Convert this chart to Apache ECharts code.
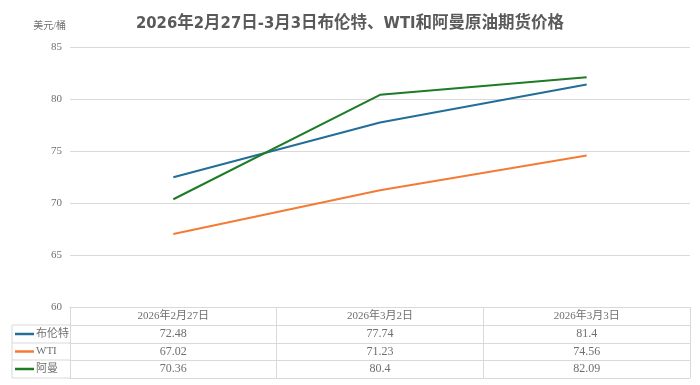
<!DOCTYPE html>
<html><head><meta charset="utf-8">
<script src="https://cdn.jsdelivr.net/npm/echarts@6/dist/echarts.min.js"></script>
<style>html,body{margin:0;padding:0;background:#fff}#c{width:700px;height:385px}</style>
</head><body><div id="c"></div>
<script>
var categories = ['2026年2月27日', '2026年3月2日', '2026年3月3日'];
var seriesNames = ['布伦特', 'WTI', '阿曼'];
var brent = [72.48, 77.74, 81.4];
var wti = [67.02, 71.23, 74.56];
var oman = [70.36, 80.4, 82.09];
var yTicks = [60, 65, 70, 75, 80, 85];
var colors = ['#236E98', '#F47B35', '#1E7B26'];
var rows = [brent, wti, oman];

var serifFont = '"Liberation Serif", "Noto Sans CJK SC", serif';
var textColor = '#6f6f6f';
var border = '#d9d9d9';
var rowH = [18, 36, 53, 71];

function rowAxis(offset, data) {
  return {
    type: 'category', gridIndex: 0, position: 'bottom', offset: offset,
    data: categories, boundaryGap: true,
    axisLine: { show: true, lineStyle: { color: border, width: 1 } },
    axisTick: { show: false },
    splitLine: { show: false },
    axisLabel: {
      show: !!data, interval: 0, margin: 3, fontSize: 12, color: textColor, fontFamily: serifFont,
      formatter: function (v, i) { return data ? String(data[i]) : ''; }
    }
  };
}

var chart = echarts.init(document.getElementById('c'), null, { renderer: 'canvas' });
var option = {
  backgroundColor: '#fff',
  animation: false,
  color: colors,
  title: {
    text: '2026年2月27日-3月3日布伦特、WTI和阿曼原油期货价格',
    left: 'center', top: 10,
    textStyle: { fontSize: 16.5, fontWeight: 'bold', color: '#5a5a5a', fontFamily: '"DejaVu Sans Condensed", "Noto Sans CJK SC", sans-serif' }
  },
  legend: {
    orient: 'vertical', left: 15, top: 327.5, padding: 0,
    itemWidth: 19, itemHeight: 2.5, itemGap: 4.5, icon: 'rect',
    data: seriesNames,
    textStyle: { fontSize: 11, lineHeight: 13, color: textColor, fontFamily: serifFont, padding: [0, 0, 0, -3] },
    selectedMode: false
  },
  grid: { left: 70, right: 10, top: 47, bottom: 78, containLabel: false },
  xAxis: [
    {
      type: 'category', gridIndex: 0, position: 'bottom', offset: 0,
      data: categories, boundaryGap: true,
      axisLine: { show: true, lineStyle: { color: border } },
      axisTick: { show: true, interval: 0, length: 71, lineStyle: { color: border } },
      axisLabel: { interval: 0, margin: 4, fontSize: 11, color: textColor, fontFamily: serifFont }
    },
    rowAxis(rowH[0], brent),
    rowAxis(rowH[1], wti),
    rowAxis(rowH[2], oman),
    rowAxis(rowH[3], null)
  ],
  yAxis: {
    type: 'value', min: yTicks[0], max: yTicks[yTicks.length - 1], interval: 5,
    name: '美元/桶', nameLocation: 'end', nameGap: 16,
    nameTextStyle: { fontSize: 10, color: textColor, fontFamily: serifFont, align: 'right', padding: [0, 4, 0, 0] },
    axisLine: { show: false }, axisTick: { show: false },
    axisLabel: { margin: 8, fontSize: 11, color: textColor, fontFamily: serifFont },
    splitLine: { lineStyle: { color: border, width: 1 } }
  },
  series: rows.map(function (d, i) {
    return {
      name: seriesNames[i], type: 'line', xAxisIndex: 0, data: d,
      showSymbol: false, symbol: 'none',
      lineStyle: { width: 2, color: colors[i] }, itemStyle: { color: colors[i] }
    };
  }),
  graphic: [
    { type: 'line', shape: { x1: 12, y1: 325, x2: 70, y2: 325 }, style: { stroke: border, lineWidth: 1 } },
    { type: 'line', shape: { x1: 12, y1: 343, x2: 70, y2: 343 }, style: { stroke: border, lineWidth: 1 } },
    { type: 'line', shape: { x1: 12, y1: 360, x2: 70, y2: 360 }, style: { stroke: border, lineWidth: 1 } },
    { type: 'line', shape: { x1: 12, y1: 378, x2: 70, y2: 378 }, style: { stroke: border, lineWidth: 1 } },
    { type: 'line', shape: { x1: 12, y1: 325, x2: 12, y2: 378 }, style: { stroke: border, lineWidth: 1 } }
  ]
};
chart.setOption(option);
</script></body></html>
